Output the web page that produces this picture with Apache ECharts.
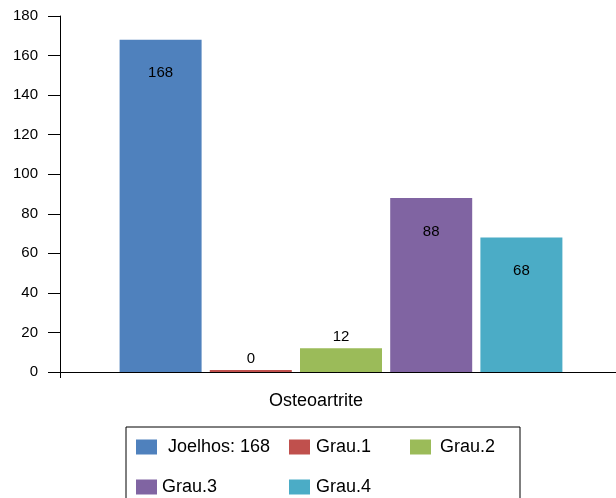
<!DOCTYPE html>
<html>
<head>
<meta charset="utf-8">
<script src="https://cdn.jsdelivr.net/npm/echarts@6/dist/echarts.min.js"></script>
<style>
  html, body { margin: 0; padding: 0; background: #fff; }
  #chart { width: 616px; height: 498px; }
</style>
</head>
<body>
<div id="chart"></div>
<script>
  // dados
  var categories = ['Osteoartrite'];
  var seriesNames = ['Joelhos: 168', 'Grau.1', 'Grau.2', 'Grau.3', 'Grau.4'];
  var seriesValues = [168, 0, 12, 88, 68];
  var colors = ['#4F81BD', '#C0504D', '#9BBB59', '#8064A2', '#4BACC6'];
  var yTicks = [0, 20, 40, 60, 80, 100, 120, 140, 160, 180];

  var font = "'Liberation Sans', Arial, Helvetica, sans-serif";
  var myChart = echarts.init(document.getElementById('chart'));

  var yMin = yTicks[0], yMax = yTicks[yTicks.length - 1];

  var series = seriesNames.map(function(name, i) {
    var v = seriesValues[i];
    var small = v < 20;
    return {
      name: name,
      type: 'bar',
      xAxisIndex: 1,
      yAxisIndex: 1,
      barWidth: 82,
      barGap: '10%',
      barMinHeight: 2,
      itemStyle: { color: colors[i] },
      label: {
        show: true,
        position: small ? 'top' : 'insideTop',
        distance: small ? 4 : 26,
        color: '#000',
        fontSize: 15,
        fontFamily: font
      },
      data: [v]
    };
  });

  // legenda em colunas
  function legendCol(items, left, pad) {
    return {
      data: items,
      orient: 'vertical',
      left: left,
      top: 438,
      padding: 0,
      itemWidth: 21,
      itemHeight: 15,
      itemGap: 22,
      icon: 'rect',
      textStyle: { color: '#000', fontSize: 18, fontFamily: font, padding: [0, 0, 0, pad] }
    };
  }

  var option = {
    animation: false,
    grid: [
      { left: 60, right: 0, top: 16, bottom: 126 },
      { left: 66, right: 0, top: 16, bottom: 126 }
    ],
    xAxis: [{
      type: 'category',
      gridIndex: 0,
      data: categories,
      axisLine: { lineStyle: { color: '#000', width: 1 } },
      axisTick: { show: true, length: 6, lineStyle: { color: '#000' } },
      axisLabel: { color: '#000', fontSize: 18, fontFamily: font, margin: 20, padding: [0, 44, 0, 0] }
    }, {
      type: 'category',
      gridIndex: 1,
      data: categories,
      show: false
    }],
    yAxis: [{
      type: 'value',
      gridIndex: 0,
      min: yMin,
      max: yMax,
      interval: 20,
      splitLine: { show: false },
      axisLine: { show: true, lineStyle: { color: '#000', width: 1 } },
      axisTick: { show: true, length: 12, lineStyle: { color: '#000' } },
      axisLabel: { color: '#000', fontSize: 15, fontFamily: font, margin: 22 }
    }, {
      type: 'value',
      gridIndex: 1,
      min: yMin,
      max: yMax,
      interval: 20,
      show: false,
      splitLine: { show: false }
    }],
    legend: [
      legendCol([{ name: seriesNames[0], textStyle: { padding: [0, 0, 0, 6] } }, seriesNames[3]], 136, 0),
      legendCol([seriesNames[1], seriesNames[4]], 289, 1),
      legendCol([seriesNames[2]], 410, 4)
    ],
    graphic: [{
      type: 'rect',
      shape: { x: 126, y: 427, width: 394, height: 90 },
      style: { fill: 'none', stroke: '#000', lineWidth: 1 },
      z: -1
    }],
    series: series
  };

  myChart.setOption(option);
</script>
</body>
</html>
